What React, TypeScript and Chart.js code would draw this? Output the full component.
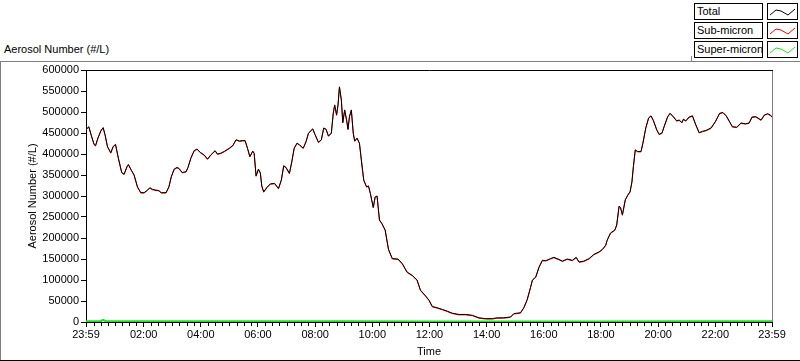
import React, { useEffect, useRef } from 'react';
import { Chart, registerables } from 'chart.js';

Chart.register(...registerables);

// minutes elapsed since 23:59 (start of record)
const TIME_MIN = [
  0, 6, 11, 17, 20, 25, 31, 36, 40, 45,
  52, 57, 62, 68, 75, 80, 86, 89, 96, 101,
  108, 115, 122, 129, 134, 139, 147, 153, 158, 168,
  174, 179, 185, 191, 195, 202, 210, 214, 220, 227,
  233, 241, 248, 255, 262, 271, 276, 283, 290, 301,
  308, 315, 322, 329, 334, 339, 344, 350, 353, 357,
  362, 366, 369, 373, 380, 387, 396, 404, 410, 415,
  420, 427, 432, 437, 443, 448, 456, 462, 467, 476,
  481, 488, 494, 499, 504, 509, 515, 519, 522, 526,
  529, 532, 536, 539, 543, 547, 550, 553, 557, 561,
  564, 569, 574, 578, 583, 589, 593, 597, 603, 607,
  611, 616, 621, 628, 635, 643, 655, 664, 674, 685,
  695, 702, 713, 720, 727, 737, 748, 758, 769, 783,
  797, 811, 825, 839, 853, 863, 877, 891, 898, 912,
  919, 926, 933, 937, 944, 951, 958, 965, 975, 982,
  993, 1000, 1010, 1021, 1029, 1035, 1045, 1056, 1066, 1077,
  1084, 1091, 1094, 1101, 1110, 1114, 1119, 1122, 1126, 1132,
  1137, 1142, 1146, 1149, 1153, 1158, 1165, 1169, 1175, 1181,
  1186, 1191, 1198, 1203, 1209, 1214, 1221, 1226, 1233, 1240,
  1245, 1251, 1254, 1259, 1266, 1273, 1280, 1287, 1294, 1301,
  1312, 1321, 1330, 1337, 1344, 1351, 1357, 1366, 1375, 1384,
  1392, 1398, 1406, 1417, 1424, 1431, 1436, 1440,
];

const TOTAL = [
  459e3, 465e3, 445e3, 423e3, 420e3, 438e3, 455e3, 463e3, 446e3, 418e3,
  403e3, 418e3, 423e3, 390e3, 356e3, 352e3, 370e3, 375e3, 360e3, 350e3,
  322e3, 308e3, 308e3, 314e3, 320e3, 316e3, 314e3, 313e3, 308e3, 308e3,
  322e3, 346e3, 364e3, 368e3, 366e3, 356e3, 358e3, 368e3, 390e3, 408e3,
  412e3, 403e3, 398e3, 388e3, 398e3, 408e3, 400e3, 402e3, 406e3, 414e3,
  420e3, 434e3, 431e3, 432e3, 432e3, 414e3, 394e3, 407e3, 402e3, 348e3,
  364e3, 355e3, 324e3, 310e3, 321e3, 329e3, 330e3, 318e3, 338e3, 372e3,
  368e3, 354e3, 382e3, 414e3, 426e3, 422e3, 414e3, 430e3, 450e3, 460e3,
  446e3, 428e3, 434e3, 462e3, 459e3, 443e3, 450e3, 497e3, 517e3, 493e3,
  517e3, 560e3, 529e3, 475e3, 505e3, 481e3, 459e3, 489e3, 505e3, 450e3,
  431e3, 438e3, 426e3, 386e3, 338e3, 322e3, 324e3, 306e3, 273e3, 298e3,
  300e3, 243e3, 235e3, 219e3, 173e3, 151e3, 150e3, 139e3, 119e3, 111e3,
  100e3, 76e3, 62e3, 52e3, 37e3, 34e3, 30e3, 26e3, 21e3, 18e3,
  18e3, 16e3, 10e3, 8e3, 8e3, 10e3, 10e3, 12e3, 20e3, 22e3,
  34e3, 53e3, 82e3, 100e3, 107e3, 131e3, 147e3, 146e3, 151e3, 154e3,
  149e3, 145e3, 150e3, 147e3, 154e3, 143e3, 145e3, 151e3, 161e3, 167e3,
  173e3, 183e3, 195e3, 212e3, 219e3, 231e3, 276e3, 273e3, 255e3, 291e3,
  302e3, 310e3, 334e3, 370e3, 410e3, 406e3, 406e3, 426e3, 462e3, 486e3,
  491e3, 480e3, 458e3, 447e3, 450e3, 467e3, 489e3, 497e3, 489e3, 479e3,
  481e3, 475e3, 483e3, 479e3, 488e3, 491e3, 470e3, 451e3, 454e3, 456e3,
  462e3, 477e3, 497e3, 499e3, 491e3, 477e3, 465e3, 464e3, 474e3, 472e3,
  474e3, 488e3, 489e3, 481e3, 493e3, 496e3, 493e3, 489e3,
];

const SUB_MICRON = [
  458e3, 464e3, 444e3, 422e3, 419e3, 437e3, 454e3, 462e3, 445e3, 417e3,
  402e3, 417e3, 422e3, 389e3, 355e3, 351e3, 369e3, 374e3, 359e3, 349e3,
  321e3, 307e3, 307e3, 313e3, 319e3, 315e3, 313e3, 312e3, 307e3, 307e3,
  321e3, 345e3, 363e3, 367e3, 365e3, 355e3, 357e3, 367e3, 389e3, 407e3,
  411e3, 402e3, 397e3, 387e3, 397e3, 407e3, 399e3, 401e3, 405e3, 413e3,
  419e3, 433e3, 430e3, 431e3, 431e3, 413e3, 393e3, 406e3, 401e3, 347e3,
  363e3, 354e3, 323e3, 309e3, 320e3, 328e3, 329e3, 317e3, 337e3, 371e3,
  367e3, 353e3, 381e3, 413e3, 425e3, 421e3, 413e3, 429e3, 449e3, 459e3,
  445e3, 427e3, 433e3, 461e3, 458e3, 442e3, 449e3, 496e3, 516e3, 492e3,
  516e3, 559e3, 528e3, 474e3, 504e3, 480e3, 458e3, 488e3, 504e3, 449e3,
  430e3, 437e3, 425e3, 385e3, 337e3, 321e3, 323e3, 305e3, 272e3, 297e3,
  299e3, 242e3, 234e3, 218e3, 172e3, 150e3, 149e3, 138e3, 118e3, 110e3,
  99e3, 75e3, 61e3, 51e3, 36e3, 33e3, 29e3, 25e3, 20e3, 17e3,
  17e3, 15e3, 9e3, 7e3, 7e3, 9e3, 9e3, 11e3, 19e3, 21e3,
  33e3, 52e3, 81e3, 99e3, 106e3, 130e3, 146e3, 145e3, 150e3, 153e3,
  148e3, 144e3, 149e3, 146e3, 153e3, 142e3, 144e3, 150e3, 160e3, 166e3,
  172e3, 182e3, 194e3, 211e3, 218e3, 230e3, 275e3, 272e3, 254e3, 290e3,
  301e3, 309e3, 333e3, 369e3, 409e3, 405e3, 405e3, 425e3, 461e3, 485e3,
  490e3, 479e3, 457e3, 446e3, 449e3, 466e3, 488e3, 496e3, 488e3, 478e3,
  480e3, 474e3, 482e3, 478e3, 487e3, 490e3, 469e3, 450e3, 453e3, 455e3,
  461e3, 476e3, 496e3, 498e3, 490e3, 476e3, 464e3, 463e3, 473e3, 471e3,
  473e3, 487e3, 488e3, 480e3, 492e3, 495e3, 492e3, 488e3,
];

const SUPER_TIME_MIN = [0, 30, 36, 42, 120, 300, 540, 720, 900, 1080, 1260, 1440];
const SUPER_MICRON = [1.6e3, 1.8e3, 5e3, 1.8e3, 1.7e3, 1.6e3, 2e3, 1.3e3, 1e3, 1.4e3, 1.7e3, 1.8e3];

const MAJOR_TICKS = [0, 121, 241, 361, 481, 601, 721, 841, 961, 1081, 1201, 1321, 1440];
const MAJOR_LABELS = ['23:59', '02:00', '04:00', '06:00', '08:00', '10:00', '12:00', '14:00', '16:00', '18:00', '20:00', '22:00', '23:59'];

const Y_MIN = 0;
const Y_MAX = 600000;
const Y_STEP = 50000;

const SERIES_NAMES = ['Total', 'Sub-micron', 'Super-micron'];
const SERIES_COLORS = ['#000000', '#ff0000', '#22dd22'];

const FONT = "'Liberation Sans', Arial, sans-serif";

export default function App() {
  const ref = useRef<HTMLCanvasElement>(null);

  useEffect(() => {
    const minor: number[] = [];
    for (let v = 16; v < 1440; v += 15) if (!MAJOR_TICKS.includes(v)) minor.push(v);
    const allTicks = [...MAJOR_TICKS, ...minor].sort((a, b) => a - b);

    const framePlugin = {
      id: 'frame',
      beforeDatasetsDraw(chart: any) {
        const { ctx, chartArea: a } = chart;
        ctx.save();
        ctx.lineWidth = 1;
        ctx.strokeStyle = '#000';
        ctx.beginPath();
        ctx.moveTo(a.left, a.top + 0.5);
        ctx.lineTo(a.right + 1, a.top + 0.5);
        ctx.stroke();
        ctx.strokeStyle = '#808080';
        ctx.beginPath();
        ctx.moveTo(a.right + 0.5, a.top + 1);
        ctx.lineTo(a.right + 0.5, a.bottom);
        ctx.stroke();
        const xs = chart.scales.x;
        ctx.strokeStyle = '#000';
        ctx.beginPath();
        minor.forEach((v) => {
          const px = Math.round(xs.getPixelForValue(v)) + 0.5;
          ctx.moveTo(px, a.bottom + 1);
          ctx.lineTo(px, a.bottom + 4);
        });
        ctx.stroke();
        ctx.restore();
      },
    };

    const chart = new Chart(ref.current!, {
      type: 'line',
      data: {
        datasets: [
          {
            label: SERIES_NAMES[0],
            data: TIME_MIN.map((x, i) => ({ x, y: TOTAL[i] })),
            borderColor: SERIES_COLORS[0],
            borderWidth: 1,
            pointRadius: 0,
            tension: 0,
          },
          {
            label: SERIES_NAMES[1],
            data: TIME_MIN.map((x, i) => ({ x, y: SUB_MICRON[i] })),
            borderColor: SERIES_COLORS[1],
            borderWidth: 1,
            pointRadius: 0,
            tension: 0,
          },
          {
            label: SERIES_NAMES[2],
            data: SUPER_TIME_MIN.map((x, i) => ({ x, y: SUPER_MICRON[i] })),
            borderColor: SERIES_COLORS[2],
            borderWidth: 2,
            pointRadius: 0,
            tension: 0,
          },
        ],
      },
      options: {
        animation: false,
        responsive: false,
        devicePixelRatio: 1,
        layout: { padding: { left: 0, top: 70, right: 28, bottom: 0 } },
        plugins: { legend: { display: false }, tooltip: { enabled: false } },
        font: { family: FONT, size: 11 } as any,
        scales: {
          x: {
            type: 'linear',
            min: 0,
            max: 1440,
            afterBuildTicks: (s: any) => {
              s.ticks = allTicks.map((v) => ({ value: v }));
            },
            afterFit: (s: any) => {
              s.height = 39;
            },
            ticks: {
              autoSkip: false,
              maxRotation: 0,
              minRotation: 0,
              color: '#000',
              padding: 1,
              font: { family: FONT, size: 11 },
              callback: (v: any) => {
                const i = MAJOR_TICKS.indexOf(Number(v));
                return i >= 0 ? MAJOR_LABELS[i] : '';
              },
            },
            grid: {
              drawOnChartArea: false,
              tickLength: 5,
              tickColor: (c: any) => (c.tick && MAJOR_TICKS.includes(c.tick.value) ? '#000' : 'rgba(0,0,0,0)'),
            },
            border: { color: '#000' },
            title: {
              display: true,
              text: 'Time',
              color: '#000',
              font: { family: FONT, size: 11 },
              padding: { top: 0, bottom: 2 },
            },
          },
          y: {
            type: 'linear',
            min: Y_MIN,
            max: Y_MAX,
            afterFit: (s: any) => {
              s.width = 86;
            },
            ticks: {
              stepSize: Y_STEP,
              color: '#000',
              padding: 2,
              font: { family: FONT, size: 11 },
              callback: (v: any) => String(v),
            },
            grid: { drawOnChartArea: false, tickLength: 5, tickColor: '#000' },
            border: { color: '#000' },
            title: {
              display: true,
              text: 'Aerosol Number (#/L)',
              color: '#000',
              font: { family: FONT, size: 11 },
              padding: { top: 26, bottom: 0 },
            },
          },
        },
      },
      plugins: [framePlugin],
    });
    return () => chart.destroy();
  }, []);

  const iconPts = '2,11 8,6 13,7 20,11 27,5';

  return (
    <div
      style={{
        position: 'fixed',
        left: 0,
        top: 0,
        width: 800,
        height: 361,
        background: '#fff',
        overflow: 'hidden',
        fontFamily: FONT,
        fontSize: 11,
        color: '#000',
      }}
    >
      <div style={{ position: 'absolute', left: 0, top: 61, width: 800, height: 1, background: '#808080' }} />
      <div style={{ position: 'absolute', left: 0, top: 61, width: 1, height: 300, background: '#808080' }} />
      <div style={{ position: 'absolute', left: 0, top: 360, width: 800, height: 1, background: '#000' }} />
      <div style={{ position: 'absolute', left: 691, top: 56, width: 1, height: 6, background: '#808080' }} />
      <div style={{ position: 'absolute', left: 4, top: 43, lineHeight: '13px', whiteSpace: 'nowrap' }}>
        Aerosol Number (#/L)
      </div>
      {SERIES_NAMES.map((name, i) => (
        <React.Fragment key={name}>
          <div
            style={{
              position: 'absolute',
              left: 694,
              top: 3 + 19 * i,
              width: 69,
              height: 17,
              boxSizing: 'border-box',
              border: '1px solid #000',
              paddingLeft: 2,
              lineHeight: '15px',
              background: '#fff',
              whiteSpace: 'nowrap',
            }}
          >
            {name}
          </div>
          <div
            style={{
              position: 'absolute',
              left: 767,
              top: 3 + 19 * i,
              width: 31,
              height: 17,
              boxSizing: 'border-box',
              border: '1px solid #000',
              background: '#fff',
            }}
          >
            <svg width={29} height={15} style={{ display: 'block' }}>
              <polyline points={iconPts} fill="none" stroke={SERIES_COLORS[i]} strokeWidth={1} />
            </svg>
          </div>
        </React.Fragment>
      ))}
      <canvas ref={ref} width={800} height={361} style={{ position: 'absolute', left: 0, top: 0 }} />
    </div>
  );
}
